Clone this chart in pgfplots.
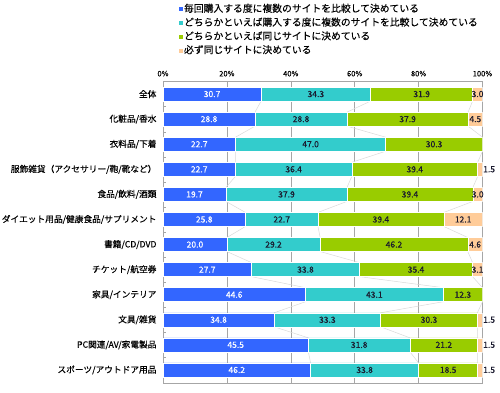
\documentclass[border=0pt]{standalone}
\usepackage{pgfplots}
\usepackage{pgfplotstable}
\pgfplotsset{compat=1.18}
\usepackage{fontspec}
\setmainfont{Noto Sans CJK JP}[FakeBold=0.25]
\definecolor{cBlue}{HTML}{3366FF}
\definecolor{cCyan}{HTML}{33CCCC}
\definecolor{cGreen}{HTML}{99CC00}
\definecolor{cPeach}{HTML}{FFCC99}
\definecolor{cGrid}{HTML}{A6A6A6}
\definecolor{cText}{HTML}{1A1A2E}

\pgfplotstableread{
y a b c d
0 30.7 34.3 31.9 3.0
1 28.8 28.8 37.9 4.5
2 22.7 47.0 30.3 0
3 22.7 36.4 39.4 1.5
4 19.7 37.9 39.4 3.0
5 25.8 22.7 39.4 12.1
6 20.0 29.2 46.2 4.6
7 27.7 33.8 35.4 3.1
8 44.6 43.1 12.3 0
9 34.8 33.3 30.3 1.5
10 45.5 31.8 21.2 1.5
11 46.2 33.8 18.5 1.5
}\data

\pgfplotstableread{
y c1 c2 c3
-0.28 30.7 65.0 96.9
0.28 30.7 65.0 96.9
0.72 28.8 57.6 95.5
1.28 28.8 57.6 95.5
1.72 22.7 69.7 100.0
2.28 22.7 69.7 100.0
2.72 22.7 59.1 98.5
3.28 22.7 59.1 98.5
3.72 19.7 57.6 97.0
4.28 19.7 57.6 97.0
4.72 25.8 48.5 87.9
5.28 25.8 48.5 87.9
5.72 20.0 49.2 95.4
6.28 20.0 49.2 95.4
6.72 27.7 61.5 96.9
7.28 27.7 61.5 96.9
7.72 44.6 87.7 100.0
8.28 44.6 87.7 100.0
8.72 34.8 68.1 98.4
9.28 34.8 68.1 98.4
9.72 45.5 77.3 98.5
10.28 45.5 77.3 98.5
10.72 46.2 80.0 98.5
11.28 46.2 80.0 98.5
}\lines

\pgfplotstableread{
x y lab
15.35 0 30.7
14.4 1 28.8
11.35 2 22.7
11.35 3 22.7
9.85 4 19.7
12.9 5 25.8
10.0 6 20.0
13.85 7 27.7
22.3 8 44.6
17.4 9 34.8
22.75 10 45.5
23.1 11 46.2
}\labA

\pgfplotstableread{
x y lab
47.85 0 34.3
43.2 1 28.8
46.2 2 47.0
40.9 3 36.4
38.65 4 37.9
37.15 5 22.7
34.6 6 29.2
44.6 7 33.8
66.15 8 43.1
51.45 9 33.3
61.4 10 31.8
63.1 11 33.8
80.95 0 31.9
76.55 1 37.9
84.85 2 30.3
78.8 3 39.4
77.3 4 39.4
68.2 5 39.4
72.3 6 46.2
79.2 7 35.4
93.85 8 12.3
83.25 9 30.3
87.9 10 21.2
89.25 11 18.5
98.45 0 3.0
97.75 1 4.5
98.5 4 3.0
93.95 5 12.1
97.7 6 4.6
98.45 7 3.1
}\labB

\pgfplotstableread{
x y lab
100 3 1.5
100 9 1.5
100 10 1.5
100 11 1.5
}\labC

\pgfplotsset{base/.style={
  scale only axis, width=319.5pt, height=302pt,
  xmin=0, xmax=100, ymin=-0.52, ymax=11.52, y dir=reverse,
  /pgf/number format/assume math mode=true,
}}

\begin{document}
\begin{tikzpicture}
\useasboundingbox (-163pt,-10pt) rectangle (337pt,383pt);
% background: frame, grid, ticks, series lines
\begin{axis}[base,
  axis line style={cGrid},
  xtick={0,20,...,100},
  xticklabel pos=upper,
  xticklabel={\pgfmathprintnumber{\tick}\%},
  xticklabel style={font=\fontsize{7.5}{9}\selectfont, text=black, yshift=1pt},
  xmajorgrids, major grid style={cGrid, line width=0.6pt},
  ytick={0,...,11},
  yticklabels={全体, 化粧品/香水, 衣料品/下着, 服飾雑貨（アクセサリー/鞄/靴など）, 食品/飲料/酒類, ダイエット用品/健康食品/サプリメント, 書籍/CD/DVD, チケット/航空券, 家具/インテリア, 文具/雑貨, PC関連/AV/家電製品, スポーツ/アウトドア用品},
  yticklabel style={font=\fontsize{8.7}{10}\selectfont, text=black, xshift=-3pt},
  minor ytick={0.5,1.5,...,10.5},
  ytick pos=left,
  major tick length=0pt, minor tick length=3pt,
  tick style={cGrid},
  tick align=inside,
]
\addplot[gray!30, line width=0.5pt, mark=none] table[x=c1, y=y] {\lines};
\addplot[gray!30, line width=0.5pt, mark=none] table[x=c2, y=y] {\lines};
\addplot[gray!30, line width=0.5pt, mark=none] table[x=c3, y=y] {\lines};
\end{axis}
% bars
\begin{axis}[base, hide axis,
  xbar stacked, bar width=14pt,
  legend style={draw=none, fill=none, at={(0.045,1.259)}, anchor=north west,
    font=\fontsize{9.8}{11}\selectfont, cells={anchor=west},
    row sep=1.3pt, inner sep=0pt,
    nodes={inner sep=1pt, text height=8pt, text depth=2.5pt}},
  legend image code/.code={\fill[#1] (0pt,-2.5pt) rectangle (5pt,2.5pt);},
]
\addplot[fill=cBlue, draw=white, line width=0.5pt] table[x=a, y=y] {\data};
\addplot[fill=cCyan, draw=white, line width=0.5pt] table[x=b, y=y] {\data};
\addplot[fill=cGreen, draw=white, line width=0.5pt] table[x=c, y=y] {\data};
\addplot[fill=cPeach, draw=white, line width=0.5pt] table[x=d, y=y] {\data};
\legend{毎回購入する度に複数のサイトを比較して決めている, どちらかといえば購入する度に複数のサイトを比較して決めている, どちらかといえば同じサイトに決めている, 必ず同じサイトに決めている}
\end{axis}
% labels
\begin{axis}[base, hide axis]
\addplot[draw=none, mark=none, nodes near coords, point meta=explicit symbolic,
  nodes near coords style={anchor=center, inner sep=0pt, text=white, font=\fontsize{8.5}{10}\selectfont}]
  table[x=x, y=y, meta=lab] {\labA};
\addplot[draw=none, mark=none, nodes near coords, point meta=explicit symbolic,
  nodes near coords style={anchor=center, inner sep=0pt, text=cText, font=\fontsize{8.5}{10}\selectfont}]
  table[x=x, y=y, meta=lab] {\labB};
\addplot[draw=none, mark=none, nodes near coords, point meta=explicit symbolic,
  nodes near coords style={anchor=west, inner sep=0pt, xshift=0.5pt, text=cText, font=\fontsize{8.5}{10}\selectfont}]
  table[x=x, y=y, meta=lab] {\labC};
\end{axis}
\end{tikzpicture}
\end{document}
